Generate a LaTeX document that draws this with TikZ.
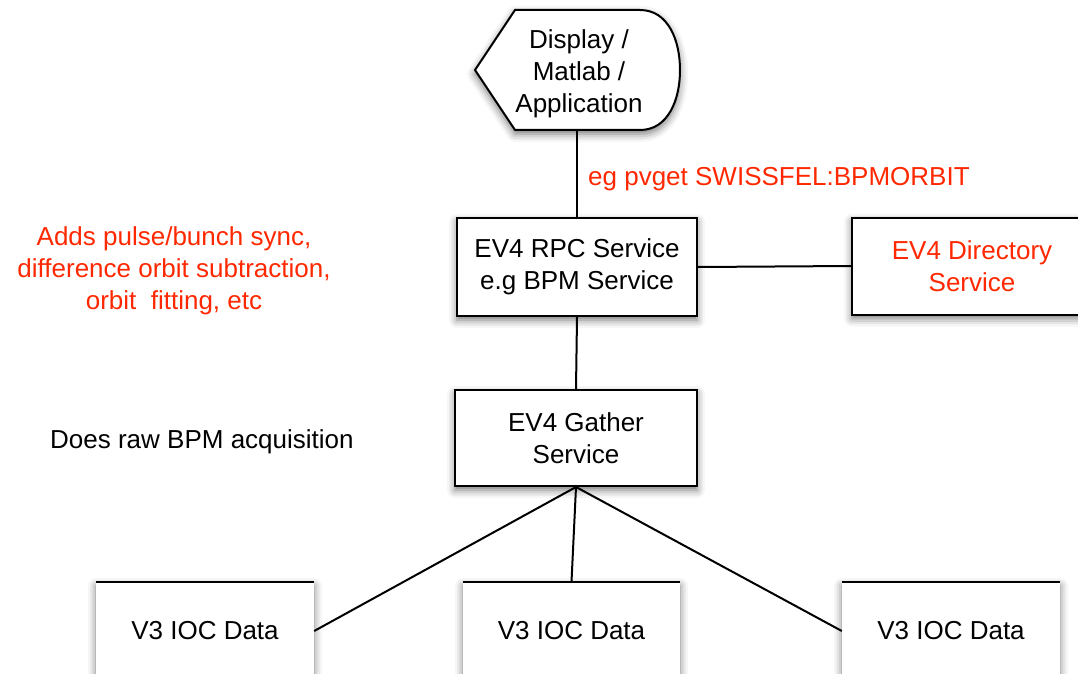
\documentclass[tikz,border=0pt]{standalone}
\usepackage{fontspec}
\setmainfont{Liberation Sans}
\usetikzlibrary{shadows.blur}
\definecolor{notered}{RGB}{255,40,0}
\tikzset{
  x=1pt, y=-1pt,
  txt/.style={font=\fontsize{26}{32}\selectfont, align=center, inner sep=0pt},
  shade/.style={blur shadow={shadow xshift=0pt, shadow yshift=-4pt, shadow blur radius=8pt, shadow opacity=55}},
  svc/.style={txt, draw=black, line width=2pt, fill=white, shade},
  ioc/.style={txt, fill=white, shade, minimum height=98pt},
  wire/.style={line width=2pt},
  note/.style={txt, text=notered},
}
\begin{document}
\begin{tikzpicture}
\useasboundingbox (0,0) rectangle (1078,674);

% display shape at the top
\draw[wire, fill=white, shade] (475,70) -- (515,10) -- (640,10)
  .. controls (668,10) and (680,40) .. (680,70)
  .. controls (680,100) and (668,130) .. (640,130) -- (515,130) -- cycle;
\node[txt] (disp) at (579,74) {Display /\\Matlab /\\Application};
\coordinate (dispb) at (577,130);

% services
\node[svc, minimum width=240pt, minimum height=98pt] (rpc) at (577,267)
  {EV4 RPC Service\\e.g BPM Service};
\node[svc, minimum width=240pt, minimum height=97pt, text=notered] (dir) at (972,266)
  {EV4 Directory\\Service};
\node[svc, minimum width=242pt, minimum height=96pt] (gather) at (576,438)
  {EV4 Gather\\Service};

% IOC data boxes, only their top edge is stroked
\node[ioc, minimum width=218pt] (ioca) at (205,631) {V3 IOC Data};
\node[ioc, minimum width=217pt] (iocb) at (571.5,631) {V3 IOC Data};
\node[ioc, minimum width=218pt] (iocc) at (951,631) {V3 IOC Data};
\foreach \b in {ioca,iocb,iocc}
  \draw[wire] (\b.north west) -- (\b.north east);

% connectors
\draw[wire] (dispb) -- (rpc.north);
\draw[wire] (rpc.east) -- (dir.west);
\draw[wire] (rpc.south) -- (gather.north);
\draw[wire] (gather.south) -- (ioca.east);
\draw[wire] (gather.south) -- (iocb.north);
\draw[wire] (gather.south) -- (iocc.west);

% annotations
\node[note, anchor=west] (pv) at (588,179) {eg pvget SWISSFEL:BPMORBIT};
\node[note] (adds) at (174,271)
  {Adds pulse/bunch sync,\\difference orbit subtraction,\\orbit\ \ fitting, etc};
\node[txt, anchor=west] (raw) at (50,442) {Does raw BPM acquisition};
\end{tikzpicture}
\end{document}
